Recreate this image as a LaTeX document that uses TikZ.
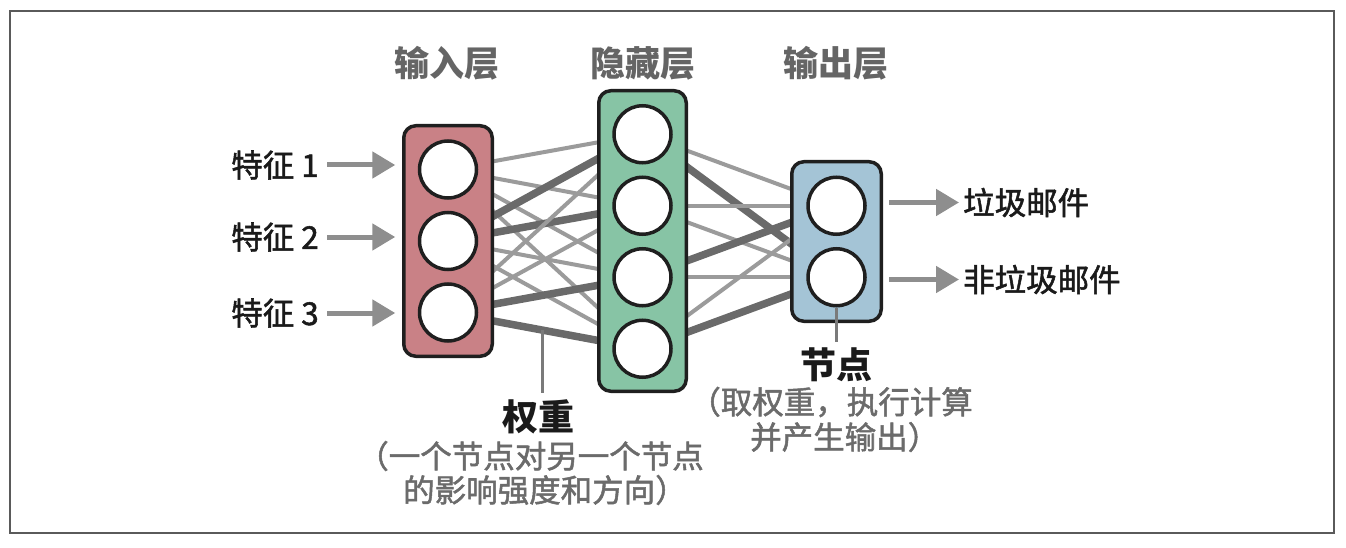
\documentclass[tikz,border=0pt]{standalone}
\usepackage{fontspec}
\setmainfont{Noto Sans CJK SC}
\newfontfamily\cjkmedium{Noto Sans CJK SC}[FakeBold=1.6]
\usetikzlibrary{arrows.meta}
\pgfdeclarelayer{bg}
\pgfsetlayers{bg,main}

\definecolor{inred}{HTML}{C98186}
\definecolor{hidgreen}{HTML}{87C4A5}
\definecolor{outblue}{HTML}{A4C4D6}
\definecolor{edgeblack}{HTML}{1F1F1F}
\definecolor{wlight}{HTML}{9B9B9B}
\definecolor{wdark}{HTML}{6A6A6A}
\definecolor{arrowgrey}{HTML}{8E8E8E}
\definecolor{titlegrey}{HTML}{656565}
\definecolor{notegrey}{HTML}{6B6B6B}
\definecolor{framegrey}{HTML}{5A5A5A}
\definecolor{textblack}{HTML}{1A1A1A}

\begin{document}
\begin{tikzpicture}[x=1pt,y=-1pt,
  layerbox/.style={draw=edgeblack, line width=3.5pt, rounded corners=12pt, inner sep=0pt},
  neuron/.style={circle, draw=edgeblack, line width=3.5pt, fill=white, minimum size=57pt, inner sep=0pt},
  light/.style={draw=wlight, line width=4pt},
  heavy/.style={draw=wdark, line width=7.5pt},
  featarrow/.style={draw=arrowgrey, line width=5pt, -{Triangle[length=23pt,width=26pt]}},
  pointer/.style={draw=notegrey!90!white, line width=3pt},
  feat/.style={font=\fontsize{31.5}{36}\cjkmedium, text=textblack, inner sep=0pt},
  title/.style={font=\fontsize{35}{40}\selectfont\bfseries, text=titlegrey, inner sep=0pt},
  notehead/.style={font=\fontsize{36}{40}\selectfont\bfseries, text=textblack, inner sep=0pt},
  note/.style={font=\fontsize{31.5}{36}\cjkmedium, text=notegrey, inner sep=0pt}
]
\useasboundingbox (0,0) rectangle (1346,548);
\draw[framegrey, line width=2pt] (10,11) rectangle (1333.5,532.5);

% layer titles
\node[title] (tin)  at (447,63)   {输入层};
\node[title] (thid) at (642.5,63) {隐藏层};
\node[title] (tout) at (836,63)   {输出层};

% layer boxes
\node[layerbox, fill=inred,    minimum width=88.5pt, minimum height=230.5pt] (inbox)  at (448,241) {};
\node[layerbox, fill=hidgreen, minimum width=87.5pt, minimum height=300.5pt] (hidbox) at (642.5,241) {};
\node[layerbox, fill=outblue,  minimum width=89.5pt, minimum height=159.5pt] (outbox) at (836.5,241.5) {};

% neurons
\node[neuron] (i1) at (448,169.5) {};
\node[neuron] (i2) at (448,241) {};
\node[neuron] (i3) at (448,312.5) {};
\node[neuron] (h1) at (642.5,134.25) {};
\node[neuron] (h2) at (642.5,205.75) {};
\node[neuron] (h3) at (642.5,277.25) {};
\node[neuron] (h4) at (642.5,348.75) {};
\node[neuron] (o1) at (836.5,205.75) {};
\node[neuron] (o2) at (836.5,277.25) {};

% weights, drawn underneath the boxes
\begin{pgfonlayer}{bg}
  \draw[light] (i1.center) -- (h1.center);
  \draw[light] (i1.center) -- (h2.center);
  \draw[light] (i1.center) -- (h3.center);
  \draw[light] (i1.center) -- (h4.center);
  \draw[heavy] (i2.center) -- (h1.center);
  \draw[heavy] (i2.center) -- (h2.center);
  \draw[light] (i2.center) -- (h3.center);
  \draw[light] (i2.center) -- (h4.center);
  \draw[light] (i3.center) -- (h1.center);
  \draw[light] (i3.center) -- (h2.center);
  \draw[heavy] (i3.center) -- (h3.center);
  \draw[heavy] (i3.center) -- (h4.center);
  \draw[light] (h1.center) -- (o1.center);
  \draw[heavy] (h1.center) -- (o2.center);
  \draw[light] (h2.center) -- (o1.center);
  \draw[light] (h2.center) -- (o2.center);
  \draw[heavy] (h3.center) -- (o1.center);
  \draw[light] (h3.center) -- (o2.center);
  \draw[light] (h4.center) -- (o1.center);
  \draw[heavy] (h4.center) -- (o2.center);
\end{pgfonlayer}

% input features
\node[feat, anchor=east] (f1) at (319,165) {特征 1};
\node[feat, anchor=east] (f2) at (319,237) {特征 2};
\node[feat, anchor=east] (f3) at (319,313) {特征 3};
\coordinate (fa1) at (327,165);
\coordinate (fa2) at (327,237);
\coordinate (fa3) at (327,313);
\draw[featarrow, shorten >=6.75pt] (fa1) -- (fa1 -| inbox.west);
\draw[featarrow, shorten >=6.75pt] (fa2) -- (fa2 -| inbox.west);
\draw[featarrow, shorten >=6.75pt] (fa3) -- (fa3 -| inbox.west);

% outputs
\node[feat, anchor=west] (s1) at (963,202.5) {垃圾邮件};
\node[feat, anchor=west] (s2) at (963,279.5) {非垃圾邮件};
\coordinate (oa1) at (889,202.5);
\coordinate (oa2) at (889,279.5);
\draw[featarrow, shorten >=4pt] (oa1) -- (oa1 -| s1.west);
\draw[featarrow, shorten >=4pt] (oa2) -- (oa2 -| s2.west);

% weight annotation
\node[notehead] (wlabel) at (538.5,417) {权重};
\node[note, anchor=east] (wnote1) at (704,456) {（一个节点对另一个节点};
\node[note, anchor=west] (wnote2) at (403,490) {的影响强度和方向）};
\coordinate (wtip) at (542,330);
\coordinate (wend) at (542,393);
\draw[pointer] (wtip) -- (wend);

% node annotation
\node[notehead] (nlabel) at (836,365) {节点};
\node[note, anchor=east] (nnote1) at (973,402) {（取权重，执行计算};
\node[note, anchor=west] (nnote2) at (750,437) {并产生输出）};
\coordinate (nend) at (836.5,342);
\draw[pointer] (o2.south) -- (nend);
\end{tikzpicture}
\end{document}
